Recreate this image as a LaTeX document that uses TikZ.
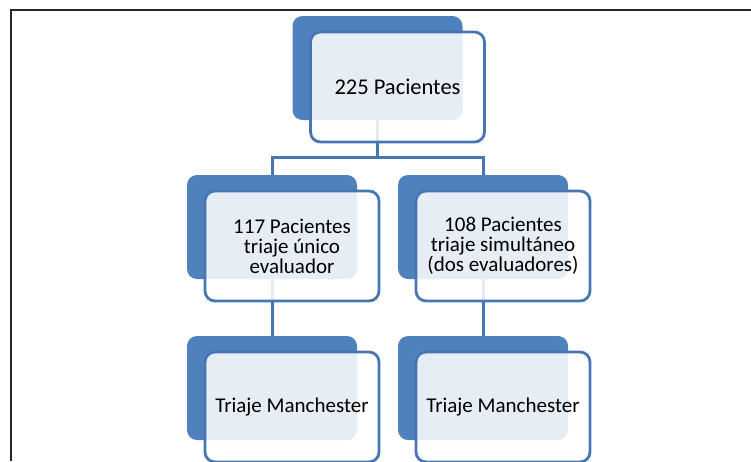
\documentclass[tikz,border=0pt]{standalone}
\usepackage{fontspec}
\setmainfont{Carlito}
\usepackage{tikz}
\usetikzlibrary{calc}
\usepackage{xcolor}

\definecolor{boxblue}{HTML}{4F81BD}
\definecolor{edgeblue}{HTML}{4677B3}

\begin{document}
\begin{tikzpicture}[x=1pt, y=-1pt,
    backbox/.style={fill=boxblue, rounded corners=10pt, minimum width=170pt,
        minimum height=104pt, inner sep=0pt, outer sep=0pt},
    frontbox/.style={draw=edgeblue, line width=2.8pt, fill=white, fill opacity=0.86,
        text opacity=1, rounded corners=10pt, minimum width=174pt, minimum height=110pt,
        inner sep=0pt, outer sep=0pt, align=center,
        font=\fontsize{21}{20}\selectfont},
    link/.style={draw=edgeblue, line width=3pt}]
\useasboundingbox (0,0) rectangle (751,461);

    % frame
    \draw[line width=2pt, black!85] (11,461) -- (11,10) -- (751,10);

    % back boxes
    \node[backbox] (b0) at (377.5,68) {};
    \node[backbox] (b1) at (272,227) {};
    \node[backbox] (b2) at (483,227) {};
    \node[backbox] (b3) at (272,388) {};
    \node[backbox] (b4) at (483,388) {};

    % connectors
    \coordinate (split) at (377.5,157);
    \draw[link] (b0.south) -- (split);
    \draw[link] (split) -| (b1.north);
    \draw[link] (split) -| (b2.north);
    \draw[link] (b1.south) -- (b3.north);
    \draw[link] (b2.south) -- (b4.north);

    % front boxes
    \node[frontbox, font=\fontsize{22.5}{21}\selectfont] (f0) at ([shift={(20,19)}]b0) {225 Pacientes};
    \node[frontbox] (f1) at ([shift={(20,19)}]b1) {117 Pacientes\\triaje único\\evaluador};
    \node[frontbox] (f2) at ([shift={(20,19)}]b2) {108 Pacientes\\triaje simultáneo\\(dos evaluadores)};
    \node[frontbox] (f3) at ([shift={(20,19)}]b3) {Triaje Manchester};
    \node[frontbox] (f4) at ([shift={(20,19)}]b4) {Triaje Manchester};
\end{tikzpicture}
\end{document}
